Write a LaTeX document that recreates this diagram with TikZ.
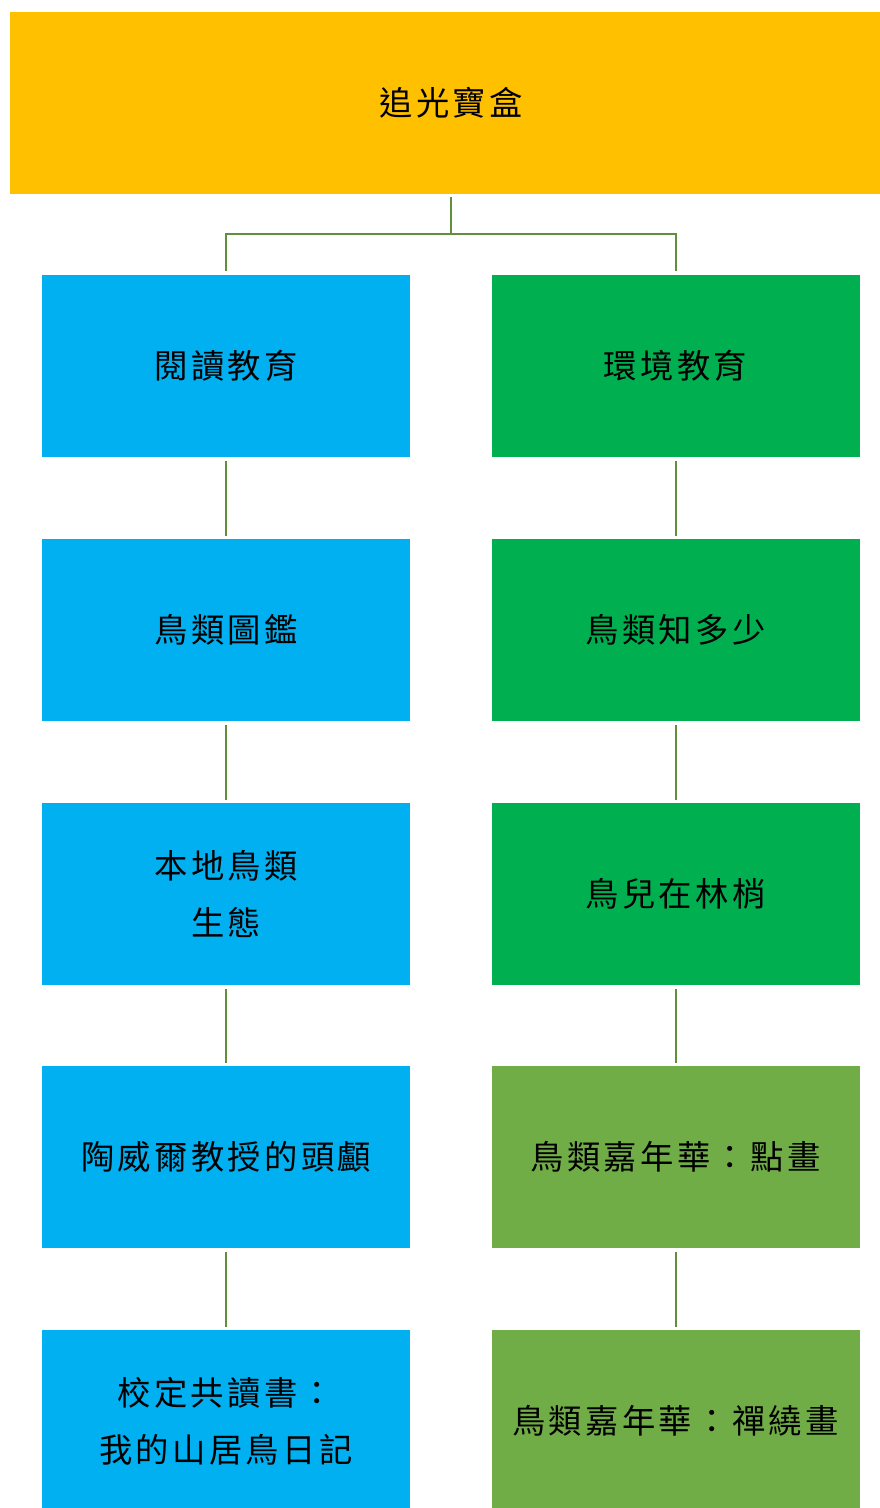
\documentclass[tikz,border=0pt]{standalone}
\usepackage{fontspec}
\usepackage{tikz}
\usetikzlibrary{positioning}
\newfontfamily\cjk[LetterSpace=10]{Noto Sans CJK TC}
\definecolor{boxgold}{HTML}{FFC000}
\definecolor{boxblue}{HTML}{00B0F0}
\definecolor{boxgreen}{HTML}{00B050}
\definecolor{boxolive}{HTML}{70AD47}
\definecolor{linkgreen}{RGB}{98,143,60}
\tikzset{
 item/.style={inner sep=0, minimum width=276pt, minimum height=136.5pt, align=center,
   font=\cjk\fontsize{25}{43}\selectfont},
 link/.style={draw=linkgreen, line width=1.5pt}
}

\begin{document}
\begin{tikzpicture}[x=0.75pt,y=-0.75pt]
\useasboundingbox (0,0) rectangle (879,1508);
\node[item, fill=boxgold, minimum width=661.5pt] (top) at (451,103) {追光寶盒};
% left column
\node[item, fill=boxblue] (l1) at (226,366) {閱讀教育};
\node[item, fill=boxblue] (l2) at (226,630) {鳥類圖鑑};
\node[item, fill=boxblue] (l3) at (226,894) {本地鳥類\\生態};
\node[item, fill=boxblue] (l4) at (226,1157) {陶威爾教授的頭顱};
\node[item, fill=boxblue] (l5) at (226,1421) {校定共讀書：\\我的山居鳥日記};
% right column
\node[item, fill=boxgreen] (r1) at (675.5,366) {環境教育};
\node[item, fill=boxgreen] (r2) at (675.5,630) {鳥類知多少};
\node[item, fill=boxgreen] (r3) at (675.5,894) {鳥兒在林梢};
\node[item, fill=boxolive] (r4) at (675.5,1157) {鳥類嘉年華：點畫};
\node[item, fill=boxolive] (r5) at (675.5,1421) {鳥類嘉年華：禪繞畫};
% connectors
\draw[link] ([yshift=-2.25pt]top.south) -- ++(0,37) coordinate (fork);
\draw[link] ([yshift=3pt]l1.north) |- (fork) -| ([yshift=3pt]r1.north);
\foreach \a/\b in {1/2,2/3,3/4,4/5} {
 \draw[link, shorten <=3pt, shorten >=2.25pt] (l\a.south) -- (l\b.north);
 \draw[link, shorten <=3pt, shorten >=2.25pt] (r\a.south) -- (r\b.north);
}
\end{tikzpicture}
\end{document}
